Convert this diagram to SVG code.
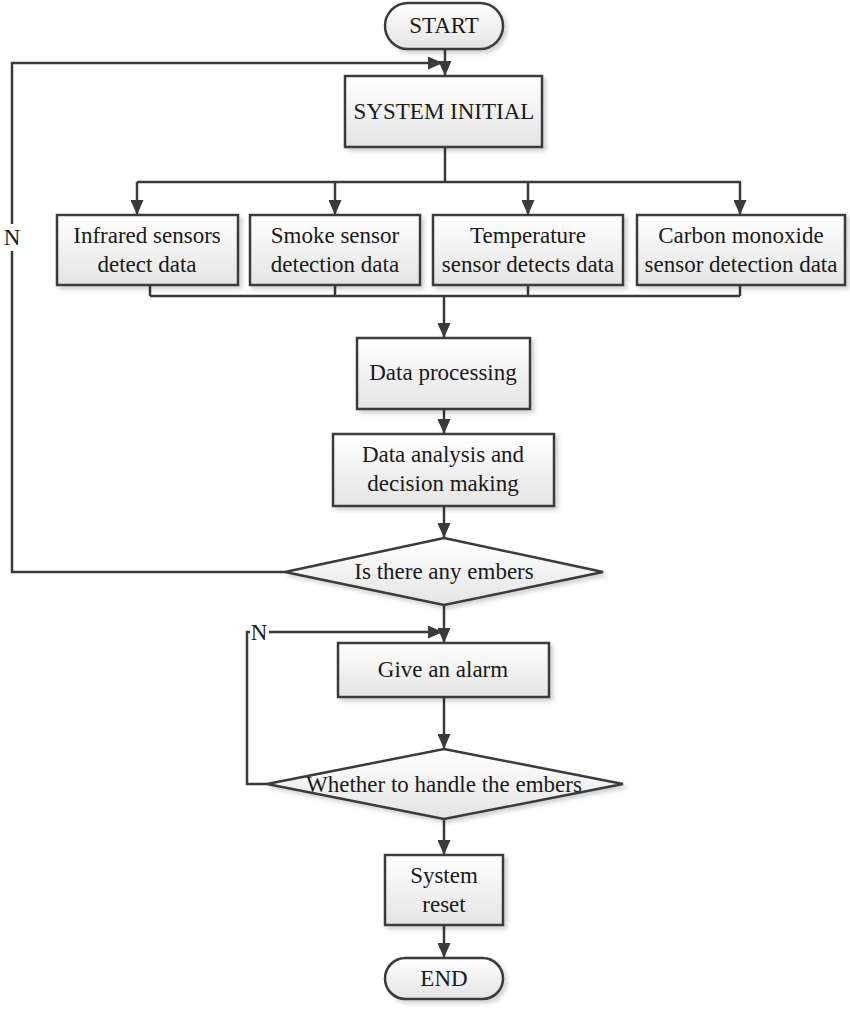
<svg xmlns="http://www.w3.org/2000/svg" width="850" height="1013" viewBox="0 0 850 1013">
<defs>
<linearGradient id="g" x1="0" y1="0" x2="0" y2="1">
<stop offset="0" stop-color="#ffffff"/>
<stop offset="1" stop-color="#e4e4e4"/>
</linearGradient>
<filter id="sh" x="-10%" y="-10%" width="130%" height="140%">
<feDropShadow dx="3" dy="3" stdDeviation="2" flood-color="#000" flood-opacity="0.18"/>
</filter>
<marker id="ah" markerWidth="15" markerHeight="13" refX="15" refY="6.5" orient="auto" markerUnits="userSpaceOnUse">
<path d="M0,0 L15,6.5 L0,13 z" fill="#3a3a3a"/>
</marker>
</defs>
<style>
.box{fill:url(#g);stroke:#3a3a3a;stroke-width:2.5;filter:url(#sh)}
.ln{fill:none;stroke:#3a3a3a;stroke-width:2.5}
.ar{fill:none;stroke:#3a3a3a;stroke-width:2.5;marker-end:url(#ah)}
text{font-family:"Liberation Serif","Times New Roman",serif;font-size:23px;fill:#1a1a1a;text-anchor:middle}
</style>
<rect width="850" height="1013" fill="#ffffff"/>

<g id="connectors">
<line class="ar" x1="445" y1="50" x2="445" y2="76"/>
<line class="ln" x1="445" y1="147" x2="445" y2="182"/>
<line class="ln" x1="137" y1="182" x2="741" y2="182"/>
<line class="ar" x1="137" y1="182" x2="137" y2="215"/>
<line class="ar" x1="335" y1="182" x2="335" y2="215"/>
<line class="ar" x1="528" y1="182" x2="528" y2="215"/>
<line class="ar" x1="740" y1="182" x2="740" y2="215"/>
<line class="ln" x1="150" y1="285" x2="150" y2="296"/>
<line class="ln" x1="335" y1="285" x2="335" y2="296"/>
<line class="ln" x1="528" y1="285" x2="528" y2="296"/>
<line class="ln" x1="740" y1="285" x2="740" y2="296"/>
<line class="ln" x1="150" y1="296" x2="740" y2="296"/>
<line class="ar" x1="444" y1="296" x2="444" y2="338"/>
<line class="ar" x1="444" y1="409" x2="444" y2="434"/>
<line class="ar" x1="444" y1="506" x2="444" y2="538"/>
<polyline class="ln" points="285,572 12,572 12,251"/>
<polyline class="ar" points="12,224 12,63 443,63"/>
<text x="12" y="245">N</text>
<line class="ar" x1="444" y1="605" x2="444" y2="643"/>
<polyline class="ar" points="267,784 247,784 247,632 443,632"/>
<rect x="250" y="621" width="19" height="22" fill="#ffffff"/>
<text x="259" y="640">N</text>
<line class="ar" x1="444" y1="697" x2="444" y2="749"/>
<line class="ar" x1="444" y1="819" x2="444" y2="855"/>
<line class="ar" x1="444" y1="925" x2="444" y2="958"/>
</g>

<g id="start">
<rect class="box" x="385" y="3" width="118" height="46" rx="23" ry="23"/>
<text x="444" y="33">START</text>
</g>
<g id="system-initial">
<rect class="box" x="345" y="76" width="197" height="71"/>
<text x="444" y="119">SYSTEM INITIAL</text>
</g>
<g id="infrared">
<rect class="box" x="57" y="215" width="181" height="70"/>
<text x="147" y="243">Infrared sensors</text>
<text x="147" y="272">detect data</text>
</g>
<g id="smoke">
<rect class="box" x="250" y="215" width="170" height="70"/>
<text x="335" y="243">Smoke sensor</text>
<text x="335" y="272">detection data</text>
</g>
<g id="temperature">
<rect class="box" x="433" y="215" width="190" height="70"/>
<text x="528" y="243">Temperature</text>
<text x="528" y="272">sensor detects data</text>
</g>
<g id="carbon">
<rect class="box" x="637" y="215" width="208" height="70"/>
<text x="741" y="243">Carbon monoxide</text>
<text x="741" y="272">sensor detection data</text>
</g>
<g id="data-processing">
<rect class="box" x="357" y="338" width="173" height="71"/>
<text x="443" y="380">Data processing</text>
</g>
<g id="data-analysis">
<rect class="box" x="333" y="434" width="221" height="72"/>
<text x="443" y="462">Data analysis and</text>
<text x="443" y="491">decision making</text>
</g>
<g id="embers-decision">
<polygon class="box" points="444,538 603,572 444,605 285,572"/>
<text x="444" y="579">Is there any embers</text>
</g>
<g id="alarm">
<rect class="box" x="338" y="643" width="211" height="54"/>
<text x="443" y="677">Give an alarm</text>
</g>
<g id="handle-decision">
<polygon class="box" points="444,749 623,784 444,819 267,784"/>
<text x="444" y="792">Whether to handle the embers</text>
</g>
<g id="system-reset">
<rect class="box" x="385" y="855" width="118" height="70"/>
<text x="444" y="883">System</text>
<text x="444" y="912">reset</text>
</g>
<g id="end">
<rect class="box" x="385" y="958" width="118" height="41" rx="20.5" ry="20.5"/>
<text x="444" y="986">END</text>
</g>
</svg>
